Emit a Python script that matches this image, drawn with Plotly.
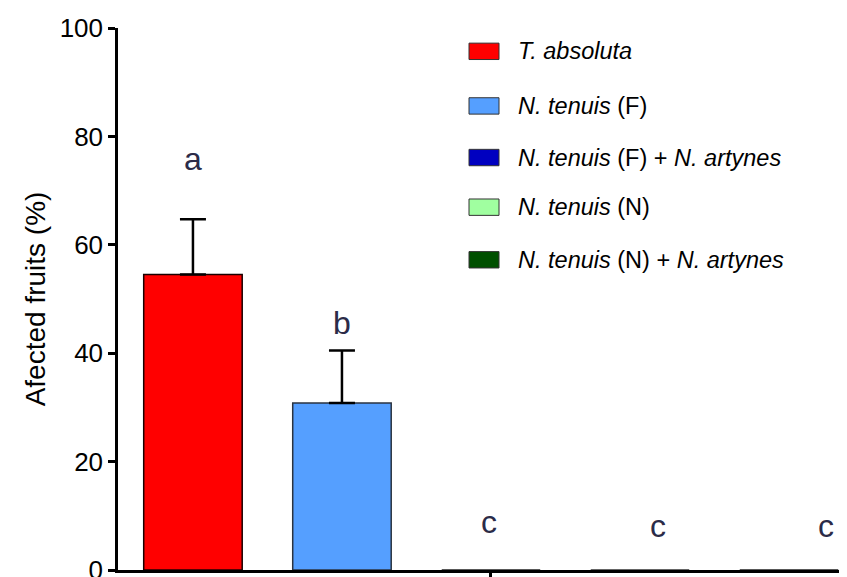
import plotly.graph_objects as go

# ---- data ----
categories = ["T. absoluta", "N. tenuis (F)", "N. tenuis (F) + N. artynes",
              "N. tenuis (N)", "N. tenuis (N) + N. artynes"]
legend_labels = ["<i>T. absoluta</i>", "<i>N. tenuis</i> (F)",
                 "<i>N. tenuis</i> (F) + <i>N. artynes</i>",
                 "<i>N. tenuis</i> (N)", "<i>N. tenuis</i> (N) + <i>N. artynes</i>"]
values = [54.5, 30.8, 0, 0, 0]
errors = [10.2, 9.7, 0, 0, 0]
letters = ["a", "b", "c", "c", "c"]
letter_x = [0.0, 1.0, 1.99, 3.12, 4.25]
letter_y = [75.9, 45.5, 8.9, 8.2, 8.2]
y_ticks = [0, 20, 40, 60, 80, 100]

colors = ["#FF0000", "#559FFF", "#0000C0", "#A0FFA0", "#005000"]
outline = ["#1a0000", "#2a3340", "#222222", "#333333", "#222222"]

FONT = "Liberation Sans, Arial, sans-serif"
W, H = 847, 577
ML, MR, MT, MB = 110, 0, 20, 11

fig = go.Figure()
for i, cat in enumerate(categories):
    fig.add_trace(go.Bar(
        x=[i], y=[values[i]], name=cat, width=0.661,
        marker=dict(color=colors[i], line=dict(color=outline[i], width=1.5)),
        error_y=dict(type="data", array=[errors[i]], arrayminus=[0], symmetric=False,
                     color="black", thickness=2.5, width=13, visible=errors[i] > 0),
        showlegend=False,
    ))

# significance letters
for lx, ly, lt in zip(letter_x, letter_y, letters):
    fig.add_annotation(x=lx, y=ly, text=lt, showarrow=False, xref="x", yref="y",
                       font=dict(family=FONT, size=32, color="#2b2b48"))

# manual legend (paper coords)
pw = W - ML - MR
ph = H - MT - MB
row_y_px = [43.5, 98.5, 150.5, 200.5, 253.5]
box_x0, box_x1, box_h = 461, 491, 16.5
text_x = 508
for i, (lab, ypx) in enumerate(zip(legend_labels, row_y_px)):
    x0 = (box_x0 - ML) / pw
    x1 = (box_x1 - ML) / pw
    y0 = (H - MB - (ypx + box_h / 2)) / ph
    y1 = (H - MB - (ypx - box_h / 2)) / ph
    fig.add_shape(type="rect", xref="paper", yref="paper", x0=x0, x1=x1, y0=y0, y1=y1,
                  fillcolor=colors[i], line=dict(color="#333333", width=1))
    fig.add_annotation(xref="paper", yref="paper", x=(text_x - ML) / pw,
                       y=(H - MB - ypx) / ph, text=lab, showarrow=False,
                       xanchor="left", yanchor="middle",
                       font=dict(family=FONT, size=23.5, color="black"))

fig.update_layout(
    width=W, height=H, margin=dict(l=ML, r=MR, t=MT, b=MB),
    plot_bgcolor="white", paper_bgcolor="white", barmode="overlay",
    font=dict(family=FONT, color="black"),
)
fig.update_xaxes(range=[-0.503, 4.443], showline=True, linecolor="black", linewidth=2.5,
                 tickvals=[2], ticktext=[""], ticks="outside", ticklen=8, tickwidth=2.5,
                 tickcolor="black", showgrid=False, zeroline=False)
fig.update_yaxes(range=[0, 100], tickvals=y_ticks, showline=True, linecolor="black",
                 linewidth=2.5, ticks="outside", ticklen=7, tickwidth=2.5, tickcolor="black",
                 ticklabeloverflow="allow",
                 tickfont=dict(family=FONT, size=26, color="black"),
                 title=dict(text="Afected fruits (%)", font=dict(family=FONT, size=28, color="black"),
                            standoff=6),
                 showgrid=False, zeroline=False)

fig.write_html("out.html")
